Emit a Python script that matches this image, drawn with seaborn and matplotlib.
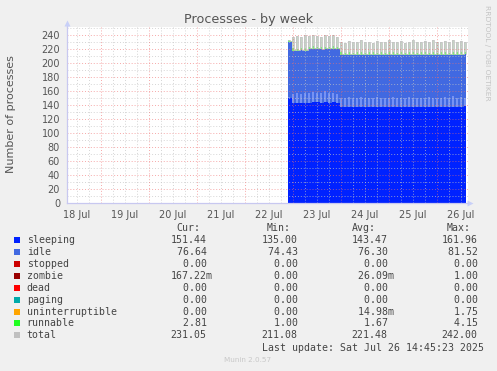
import numpy as np
import pandas as pd
import matplotlib
matplotlib.use("Agg")
import matplotlib.pyplot as plt
import matplotlib.dates as mdates
from matplotlib.patches import Rectangle
import seaborn as sns

# ---------------- data ----------------
data_start = "2025-07-22 21:30"
data_end = "2025-07-26 14:30"
n_cycles = 45  # 2-hour cycles

sleep_base = [150, 143, 143, 144, 143, 144, 145, 145, 144, 145, 144, 145, 144,
              138, 137, 137, 138, 137, 138, 137, 137, 138, 137, 138, 138, 137, 137, 138, 137, 138,
              137, 137, 138, 138, 137, 137, 138, 137, 138, 137, 138, 137, 138, 138, 139]
sleep_peak = [152, 156, 157, 156, 158, 157, 159, 158, 157, 160, 158, 157, 156,
              151, 150, 152, 150, 151, 152, 150, 151, 150, 152, 151, 150, 151, 152, 150, 151, 150,
              152, 151, 150, 151, 150, 152, 151, 150, 151, 152, 150, 153, 151, 152, 151]
idle_vals = [80, 75, 75, 74.5, 75, 76.5, 76, 75.5, 76, 75.5, 76.5, 75.5, 76.5,
             74.5, 75.5, 75.5, 74.5, 75.5, 74.5, 75.5, 75.5, 74.5, 75.5, 74.5, 74.5, 75.5, 75.5, 74.5, 75.5, 74.5,
             75.5, 75.5, 74.5, 74.5, 75.5, 75.5, 74.5, 75.5, 74.5, 75.5, 74.5, 75.5, 74.5, 74.5, 74]
run_base = [1.5, 1.2, 1.0, 1.3, 1.1, 1.2, 1.4, 1.0, 1.2, 1.3, 1.1, 1.2, 1.0,
            1.2, 1.1, 1.3, 1.0, 1.2, 1.4, 1.1, 1.0, 1.2, 1.3, 1.1, 1.2, 1.0, 1.3, 1.2, 1.1, 1.0,
            1.2, 1.3, 1.1, 1.2, 1.0, 1.4, 1.2, 1.1, 1.3, 1.0, 1.2, 1.1, 1.3, 1.2, 1.0]
run_peak = [3.0, 3.5, 2.8, 3.2, 3.9, 3.0, 3.4, 2.9, 3.6, 3.1, 3.3, 4.1, 3.0,
            3.2, 2.9, 3.4, 3.0, 3.6, 3.1, 2.8, 3.3, 3.5, 3.0, 3.2, 2.9, 3.7, 3.1, 3.0, 3.4, 2.8,
            3.2, 3.5, 3.0, 3.1, 3.6, 2.9, 3.3, 3.0, 3.2, 3.8, 3.0, 3.1, 3.4, 3.2, 2.8]
total_peak = [233, 238, 239, 238, 240, 239, 240, 239, 238, 240, 239, 240, 238,
              231, 229, 232, 230, 231, 233, 230, 231, 229, 232, 231, 230, 233, 231, 230, 232, 229,
              231, 233, 230, 231, 232, 230, 234, 231, 230, 232, 231, 233, 230, 232, 231]

legend_names = ["sleeping", "idle", "stopped", "zombie", "dead", "paging",
                "uninterruptible", "runnable", "total"]
legend_colors = ["#0022ff", "#4169e1", "#cc0000", "#990000", "#ff0000", "#00aaaa",
                 "#ffa500", "#22ff22", "#c0c0c0"]
cur_vals = ["151.44", "76.64", "0.00", "167.22m", "0.00", "0.00", "0.00", "2.81", "231.05"]
min_vals = ["135.00", "74.43", "0.00", "0.00", "0.00", "0.00", "0.00", "1.00", "211.08"]
avg_vals = ["143.47", "76.30", "0.00", "26.09m", "0.00", "0.00", "14.98m", "1.67", "221.48"]
max_vals = ["161.96", "81.52", "0.00", "1.00", "0.00", "0.00", "1.75", "4.15", "242.00"]

# ---------------- figure ----------------
W, H = 497, 371
sns.set_style("white")
plt.rcParams["font.family"] = ["DejaVu Sans"]
fig = plt.figure(figsize=(W / 100, H / 100), dpi=100, facecolor="#f0f0f0")


def fx(px):
    return px / W


def fy(py):
    return 1 - py / H


ax = fig.add_axes([fx(67), fy(203.3), fx(468) - fx(67), fy(27) - fy(203.3)])
ax.set_facecolor("white")

t = pd.date_range(data_start, periods=n_cycles, freq="2h")
t_end = pd.Timestamp(data_end)
sb = np.array(sleep_base, float)
sp = np.array(sleep_peak, float)
idl = np.array(idle_vals, float)
rb = np.array(run_base, float)
rp = np.array(run_peak, float)
tp = np.array(total_peak, float)
top = sb + idl

xs = list(t) + [t_end]


def ext(a):
    return np.append(a, a[-1])


ax.fill_between(xs, 0, ext(sb), step="post", color="#0022ff", lw=0, zorder=1)
ax.fill_between(xs, ext(sb), ext(top), step="post", color="#4169e1", lw=0, zorder=1)
ax.fill_between(xs, ext(top), ext(top + rb), step="post", color="#22ff22", lw=0, zorder=1)

w = 1 / 24
# spikes in sleeping (thin, anti-aliased -> lighter)
ax.bar(t, sp - sb, bottom=sb, width=w, align="edge", color="#7592f4", lw=0, zorder=1.5)
# spikes in total
ax.bar(t, tp - (top + rb), bottom=top + rb, width=w, align="edge", color="#c6d6c6", lw=0, zorder=1.5)
ax.bar(t, rp, bottom=top, width=w, align="edge", color="#7fe87f", lw=0, zorder=1.6)

# total line
tl_x, tl_y = [], []
for i in range(n_cycles):
    tl_x += [t[i], t[i] + pd.Timedelta(hours=1)]
    tl_y += [tp[i], top[i] + rb[i]]
df_tot = pd.DataFrame({"time": tl_x, "total": tl_y})
sns.lineplot(data=df_tot, x="time", y="total", ax=ax, drawstyle="steps-post",
             color="#c4c4c4", lw=0.6, zorder=1.7)

x0 = pd.Timestamp("2025-07-18 07:00")
x1 = pd.Timestamp("2025-07-26 15:30")
ax.set_xlim(x0, x1)
ax.set_ylim(0, 252)

# grid (drawn on top like rrdtool)
for v in range(10, 251, 10):
    if v % 20 == 0:
        ax.axhline(v, color="#f07070", alpha=0.6, lw=0.7, ls=(0, (1, 2)), zorder=3)
    else:
        ax.axhline(v, color="#c4c4c4", alpha=0.7, lw=0.7, ls=(0, (1, 2)), zorder=3)
six = pd.date_range("2025-07-18 12:00", "2025-07-26 12:00", freq="6h")
for d in six:
    if d.hour == 0:
        ax.axvline(d, color="#f07070", alpha=0.6, lw=0.7, ls=(0, (1, 2)), zorder=3)
    else:
        ax.axvline(d, color="#c4c4c4", alpha=0.7, lw=0.7, ls=(0, (1, 2)), zorder=3)

ax.set_yticks(range(0, 241, 20))
ax.xaxis.set_major_locator(mdates.HourLocator(byhour=12))
ax.xaxis.set_major_formatter(mdates.DateFormatter("%d %b"))
ax.tick_params(axis="y", length=2, width=0.6, color="#bbbbbb", pad=3,
               labelsize=7, labelcolor="#555555")
ax.tick_params(axis="x", length=0, pad=4.5, labelsize=7, labelcolor="#555555")
ax.set_xlabel("")
ax.set_ylabel("")
for s in ["top", "right"]:
    ax.spines[s].set_visible(False)
for s in ["left", "bottom"]:
    ax.spines[s].set_color("#c8c8f0")
    ax.spines[s].set_linewidth(0.9)
    ax.spines[s].set_zorder(4)
ax.plot([0, 0], [1, 1.025], color="#c8c8f0", lw=0.9, transform=ax.transAxes, clip_on=False)
ax.plot([0], [1.025], marker="^", ms=5, color="#c8d0f8", mec="none",
        transform=ax.transAxes, clip_on=False)
ax.plot([1, 1.006], [0, 0], color="#c8c8f0", lw=0.9, transform=ax.transAxes, clip_on=False)
ax.plot([1.006], [0], marker=">", ms=5, color="#c8d0f8", mec="none",
        transform=ax.transAxes, clip_on=False)

# texts
fig.text(fx(248.5), fy(19), "Processes - by week", ha="center", va="center",
         fontsize=9.2, color="#555555")
fig.text(fx(11), fy(114), "Number of processes", ha="center", va="center",
         rotation=90, fontsize=8, color="#555555")
fig.text(fx(487.5), fy(53), "RRDTOOL / TOBI OETIKER", ha="center", va="center",
         rotation=270, fontsize=5.4, color="#c4c4c4")

mono = "DejaVu Sans Mono"
fs = 7.1
tc = "#444444"
hy = 227.7
for lbl, xp in [("Cur:", 176.7), ("Min:", 266.7), ("Avg:", 351.7), ("Max:", 446.7)]:
    fig.text(fx(xp), fy(hy), lbl, ha="left", va="center", family=mono, fontsize=fs, color=tc)


def fmt(s):
    if s.endswith("m"):
        return s[:-1].rjust(6) + "m"
    return s.rjust(6)


for i, name in enumerate(legend_names):
    yy = 240 + i * 11.92
    fig.patches.append(Rectangle((fx(14), fy(yy + 3)), 6 / W, 6 / H,
                                 transform=fig.transFigure, color=legend_colors[i], lw=0))
    fig.text(fx(26.7), fy(yy), name, ha="left", va="center", family=mono, fontsize=fs, color=tc)
    for col, xp in [(cur_vals, 170.7), (min_vals, 261.7), (avg_vals, 351.7), (max_vals, 441.7)]:
        fig.text(fx(xp), fy(yy), fmt(col[i]), ha="left", va="center", family=mono,
                 fontsize=fs, color=tc)

fig.text(fx(261.7), fy(347.7), "Last update: Sat Jul 26 14:45:23 2025", ha="left",
         va="center", family=mono, fontsize=fs, color=tc)
fig.text(fx(248), fy(360), "Munin 2.0.57", ha="center", va="center",
         fontsize=5.2, color="#c8c8c8")

fig.savefig("out.png", dpi=100, facecolor=fig.get_facecolor())
